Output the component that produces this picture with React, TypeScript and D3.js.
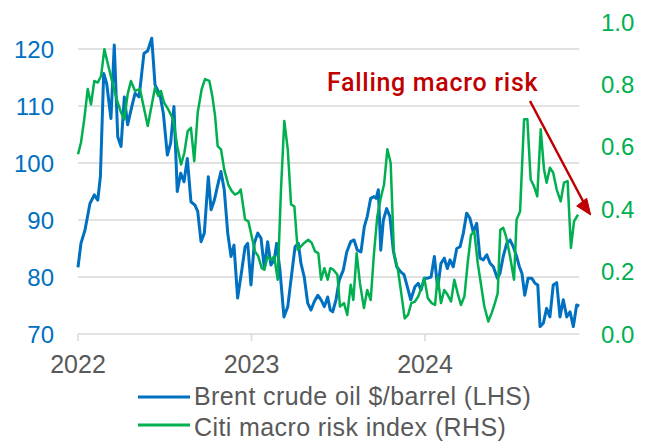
import React from "react";
import * as d3 from "d3";

// Brent crude oil ($/barrel, LHS) — decimal year, value
const brentYear = [2022.000,2022.017,2022.040,2022.069,2022.094,2022.114,2022.129,2022.148,2022.165,2022.190,2022.209,2022.229,2022.248,2022.267,2022.286,2022.310,2022.329,2022.352,2022.380,2022.402,2022.425,2022.444,2022.473,2022.492,2022.515,2022.534,2022.553,2022.572,2022.592,2022.611,2022.630,2022.651,2022.674,2022.690,2022.709,2022.728,2022.751,2022.767,2022.786,2022.803,2022.824,2022.843,2022.863,2022.882,2022.899,2022.920,2022.944,2022.963,2022.978,2022.997,2023.016,2023.036,2023.055,2023.074,2023.093,2023.112,2023.131,2023.145,2023.164,2023.187,2023.209,2023.232,2023.251,2023.270,2023.285,2023.304,2023.324,2023.343,2023.362,2023.382,2023.401,2023.420,2023.439,2023.454,2023.468,2023.487,2023.506,2023.529,2023.549,2023.572,2023.591,2023.610,2023.631,2023.650,2023.667,2023.687,2023.706,2023.718,2023.731,2023.745,2023.760,2023.779,2023.798,2023.817,2023.837,2023.860,2023.879,2023.898,2023.918,2023.942,2023.961,2023.977,2023.996,2024.016,2024.035,2024.054,2024.073,2024.092,2024.111,2024.129,2024.144,2024.163,2024.183,2024.202,2024.221,2024.240,2024.259,2024.278,2024.298,2024.317,2024.336,2024.356,2024.375,2024.394,2024.417,2024.432,2024.451,2024.471,2024.490,2024.509,2024.528,2024.544,2024.559,2024.575,2024.594,2024.615,2024.634,2024.650,2024.663,2024.682,2024.701,2024.720,2024.739,2024.759,2024.778,2024.797,2024.817,2024.836,2024.855,2024.874,2024.889];
const brentValue = [81.7,85.9,88.2,92.9,94.4,93.5,97.6,115.7,114.0,107.8,120.7,104.6,102.9,111.6,106.7,109.9,112.2,111.6,119.2,119.7,121.9,113.7,111.9,108.7,101.4,103.5,109.9,95.0,98.2,96.7,100.8,93.2,92.6,91.5,86.2,87.7,97.6,91.8,93.5,95.8,98.5,95.3,87.7,83.6,85.6,76.3,81.2,85.3,85.9,78.6,85.9,87.7,86.8,81.5,86.2,82.1,83.0,85.9,81.2,73.0,74.8,80.6,85.3,85.9,82.4,80.0,75.4,74.2,75.7,76.8,76.0,74.8,76.5,74.2,73.9,76.0,79.5,81.2,84.4,86.2,86.5,84.7,84.4,88.8,90.6,93.8,94.1,93.8,95.3,84.7,90.0,92.0,90.6,84.7,81.8,80.9,80.4,78.3,76.0,78.3,78.9,77.7,79.8,79.8,80.0,83.6,78.0,82.4,83.3,81.5,83.0,81.8,85.0,85.3,87.7,91.2,90.3,87.9,89.4,83.3,83.0,83.9,82.4,81.8,79.8,80.6,83.6,85.9,86.5,85.3,83.6,81.8,80.6,76.8,79.8,79.8,78.9,78.6,71.3,71.9,74.5,73.0,78.6,79.0,73.0,76.0,73.0,73.9,71.3,75.1,74.9];

// Citi macro risk index (RHS) — decimal year, value
const riskYear = [2022.000,2022.017,2022.036,2022.056,2022.075,2022.094,2022.114,2022.133,2022.152,2022.175,2022.198,2022.223,2022.248,2022.267,2022.286,2022.305,2022.329,2022.357,2022.402,2022.444,2022.463,2022.478,2022.496,2022.520,2022.549,2022.572,2022.594,2022.613,2022.632,2022.651,2022.670,2022.690,2022.713,2022.732,2022.757,2022.774,2022.790,2022.805,2022.824,2022.843,2022.866,2022.886,2022.905,2022.924,2022.938,2022.963,2022.982,2023.001,2023.020,2023.039,2023.059,2023.074,2023.093,2023.112,2023.131,2023.151,2023.170,2023.189,2023.209,2023.228,2023.247,2023.266,2023.285,2023.304,2023.327,2023.347,2023.366,2023.385,2023.401,2023.420,2023.439,2023.454,2023.472,2023.495,2023.510,2023.533,2023.552,2023.572,2023.587,2023.606,2023.625,2023.648,2023.667,2023.687,2023.706,2023.725,2023.745,2023.764,2023.783,2023.802,2023.821,2023.844,2023.863,2023.883,2023.902,2023.921,2023.942,2023.961,2023.981,2023.996,2024.016,2024.039,2024.058,2024.073,2024.092,2024.111,2024.131,2024.150,2024.169,2024.188,2024.207,2024.227,2024.246,2024.265,2024.284,2024.304,2024.323,2024.342,2024.365,2024.384,2024.403,2024.419,2024.434,2024.451,2024.467,2024.490,2024.513,2024.528,2024.548,2024.571,2024.590,2024.609,2024.628,2024.647,2024.667,2024.686,2024.701,2024.720,2024.739,2024.759,2024.782,2024.801,2024.822,2024.841,2024.859,2024.882];
const riskValue = [0.576,0.613,0.688,0.785,0.736,0.811,0.806,0.827,0.913,0.859,0.806,0.752,0.710,0.688,0.768,0.811,0.779,0.785,0.667,0.790,0.763,0.779,0.742,0.720,0.688,0.602,0.543,0.581,0.650,0.661,0.554,0.710,0.785,0.817,0.811,0.763,0.699,0.602,0.592,0.527,0.479,0.458,0.447,0.452,0.463,0.367,0.361,0.313,0.265,0.249,0.211,0.206,0.249,0.238,0.249,0.174,0.463,0.683,0.592,0.415,0.409,0.270,0.281,0.292,0.302,0.292,0.265,0.259,0.174,0.211,0.174,0.211,0.206,0.190,0.088,0.099,0.061,0.158,0.109,0.259,0.163,0.083,0.141,0.109,0.259,0.377,0.436,0.479,0.592,0.549,0.259,0.206,0.131,0.050,0.061,0.099,0.104,0.120,0.152,0.179,0.115,0.099,0.093,0.184,0.099,0.141,0.125,0.104,0.174,0.131,0.093,0.120,0.227,0.318,0.329,0.227,0.158,0.088,0.040,0.067,0.099,0.131,0.334,0.340,0.313,0.249,0.174,0.367,0.393,0.688,0.688,0.495,0.474,0.441,0.656,0.527,0.485,0.533,0.517,0.463,0.425,0.485,0.490,0.276,0.361,0.383];

const leftTicks = [70, 80, 90, 100, 110, 120];
const rightTicks = [0, 0.2, 0.4, 0.6, 0.8, 1.0];
const yearTicks = [2022, 2023, 2024];
const seriesNames = ["Brent crude oil $/barrel (LHS)", "Citi macro risk index (RHS)"];
const annotationText = "Falling macro risk";

const BLUE = "#0070C0";
const GREEN = "#00B050";
const GRID = "#D9D9D9";
const GRAY = "#595959";
const RED = "#C00000";

export default function App() {
  const W = 651, H = 443;
  const x0 = 78, x1 = 579.3;
  const x = d3.scaleLinear().domain([2022, 2022 + (x1 - x0) / 173.5]).range([x0, x1]);
  const yL = d3.scaleLinear().domain([70, 120]).range([334, 49]);
  const yR = d3.scaleLinear().domain([0, 1]).range([334, 22]);

  const brent = brentYear.map((t, i) => [t, brentValue[i]] as [number, number]);
  const risk = riskYear.map((t, i) => [t, riskValue[i]] as [number, number]);
  const lineL = d3.line<[number, number]>().x(d => x(d[0])).y(d => yL(d[1]));
  const lineR = d3.line<[number, number]>().x(d => x(d[0])).y(d => yR(d[1]));

  const font = "'Liberation Sans', Arial, sans-serif";

  return (
    <svg width={W} height={H} style={{ position: "absolute", left: 0, top: 0, display: "block" }}>
      <rect width={W} height={H} fill="#fff" />
      {leftTicks.filter(v => v > 70).map(v => (
        <line key={v} x1={x0} x2={x1} y1={yL(v)} y2={yL(v)} stroke={GRID} strokeWidth={1.5} />
      ))}
      <line x1={x0} x2={x1} y1={yL(70)} y2={yL(70)} stroke={GRID} strokeWidth={1.5} />
      {yearTicks.map(t => (
        <line key={t} x1={x(t)} x2={x(t)} y1={yL(70)} y2={yL(70) + 7} stroke={GRID} strokeWidth={1.5} />
      ))}
      {leftTicks.map(v => (
        <text key={v} x={54} y={yL(v)} dy="0.36em" textAnchor="end" fontFamily={font} fontSize={24} fill={BLUE}>{v}</text>
      ))}
      {rightTicks.map(v => (
        <text key={v} x={601} y={yR(v)} dy="0.36em" textAnchor="start" fontFamily={font} fontSize={24} fill={GREEN}>{v.toFixed(1)}</text>
      ))}
      {yearTicks.map(t => (
        <text key={t} x={x(t)} y={373} textAnchor="middle" fontFamily={font} fontSize={25} fill={GRAY}>{t}</text>
      ))}
      <path d={lineL(brent) || ""} fill="none" stroke={BLUE} strokeWidth={3} strokeLinejoin="round" />
      <path d={lineR(risk) || ""} fill="none" stroke={GREEN} strokeWidth={2.5} strokeLinejoin="round" />

      <text x={327} y={90.5} fontFamily="Roboto, sans-serif" fontWeight={500} fontSize={25} letterSpacing={0.7} fill={RED}>{annotationText}</text>
      <line x1={530} y1={101} x2={584} y2={203} stroke={RED} strokeWidth={2.5} />
      <polygon points="576.7,206 586.7,198.3 590.7,215" fill={RED} stroke={RED} strokeWidth={1} strokeLinejoin="round" />

      <line x1={138} x2={190} y1={397} y2={397} stroke={BLUE} strokeWidth={3} />
      <text x={194} y={405} fontFamily={font} fontSize={25} letterSpacing={0.4} fill={GRAY}>{seriesNames[0]}</text>
      <line x1={138} x2={190} y1={425} y2={425} stroke={GREEN} strokeWidth={3} />
      <text x={194} y={435.5} fontFamily={font} fontSize={25} letterSpacing={0.4} fill={GRAY}>{seriesNames[1]}</text>
    </svg>
  );
}
